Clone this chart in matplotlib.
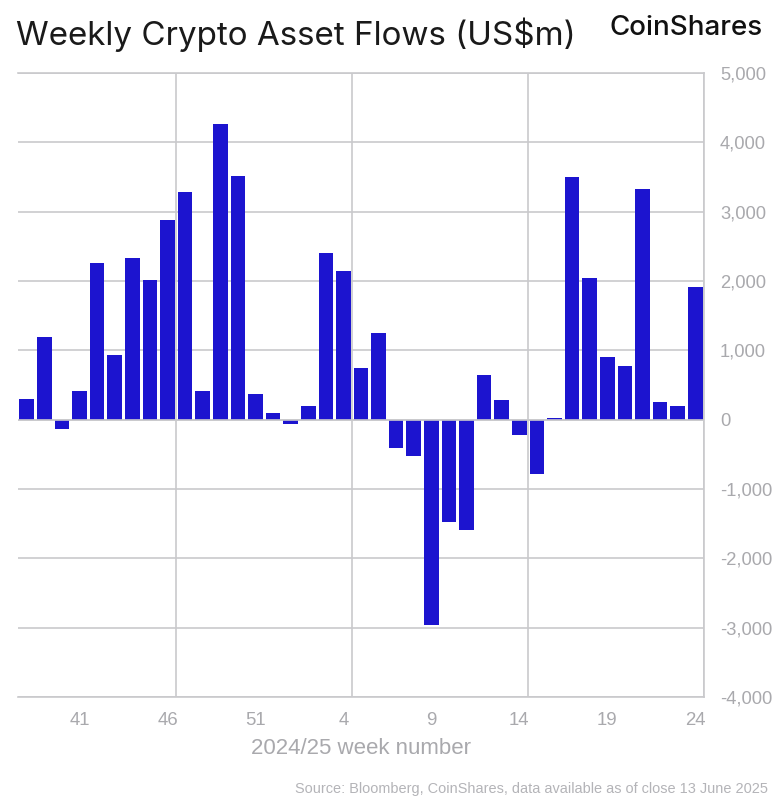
import matplotlib
matplotlib.use('Agg')
import matplotlib.pyplot as plt

weeks = [38,39,40,41,42,43,44,45,46,47,48,49,50,51,52,1,2,3,4,5,6,7,8,9,10,11,12,13,14,15,16,17,18,19,20,21,22,23,24]
flows = [300,1190,-130,410,2260,930,2330,2010,2880,3290,410,4270,3510,370,90,-60,190,2410,2140,740,1250,-410,-530,-2960,-1480,-1590,640,280,-220,-780,20,3500,2050,900,780,3320,260,200,1910]
label_weeks = [41,46,51,4,9,14,19,24]
y_ticks = [-4000,-3000,-2000,-1000,0,1000,2000,3000,4000,5000]
title = 'Weekly Crypto Asset Flows (US$m)'
xlabel = '2024/25 week number'
source = 'Source: Bloomberg, CoinShares, data available as of close 13 June 2025'
brand = 'CoinShares'

W, H = 774, 800
GREY = '#c9c9cc'
TXT = '#a9a9ad'
plt.rcParams['font.family'] = ['Liberation Sans', 'DejaVu Sans']
fig = plt.figure(figsize=(W/100, H/100), dpi=100, facecolor='white')
ax = fig.add_axes([18/W, 1-697/H, (704-18)/W, (697-73)/H])
pos = list(range(len(weeks)))
ax.set_xlim(-0.5, len(weeks)-0.5)
ax.set_ylim(-4000, 5000)
ax.bar(pos, flows, width=0.83, color='#1c14cf', zorder=3, linewidth=0)

ax.set_yticks(y_ticks)
ax.set_yticklabels([f'{v:,}' for v in y_ticks], fontsize=13.2, color=TXT)
ax.yaxis.tick_right()
ax.tick_params(axis='y', length=0, pad=11.5)
ax.grid(axis='y', color=GREY, lw=1.2, zorder=1)

tick_pos = [pos[weeks.index(w)] for w in label_weeks]
ax.set_xticks(tick_pos)
ax.set_xticklabels([str(w) for w in label_weeks], fontsize=13.4, color=TXT)
ax.tick_params(axis='x', length=0, pad=11)
for w in label_weeks[1::2]:
    ax.axvline(pos[weeks.index(w)] + 0.5 if w != 24 else len(weeks)-0.5, color=GREY, lw=1.2, zorder=1)
ax.spines['left'].set_visible(False)
for s in ['top', 'right', 'bottom']:
    ax.spines[s].set_color(GREY)
    ax.spines[s].set_linewidth(1.2)
ax.axhline(0, color=GREY, lw=1.2, zorder=4)

fig.text(361/W, 1-749/H, xlabel, fontsize=16, color=TXT, ha='center', va='center')
fig.text(768/W, 1-789/H, source, fontsize=10.45, color='#b4b4b8', ha='right', va='center')
fig.text(16/W, 1-35/H, title, fontsize=23.9, color='#1a1a1a', ha='left', va='center', family=['Inter', 'DejaVu Sans'])
fig.text(763/W, 1-28/H, brand, fontsize=20, color='#111111', ha='right', va='center', family=['Inter', 'DejaVu Sans'], fontweight='medium')
fig.savefig('out.png', dpi=100)
